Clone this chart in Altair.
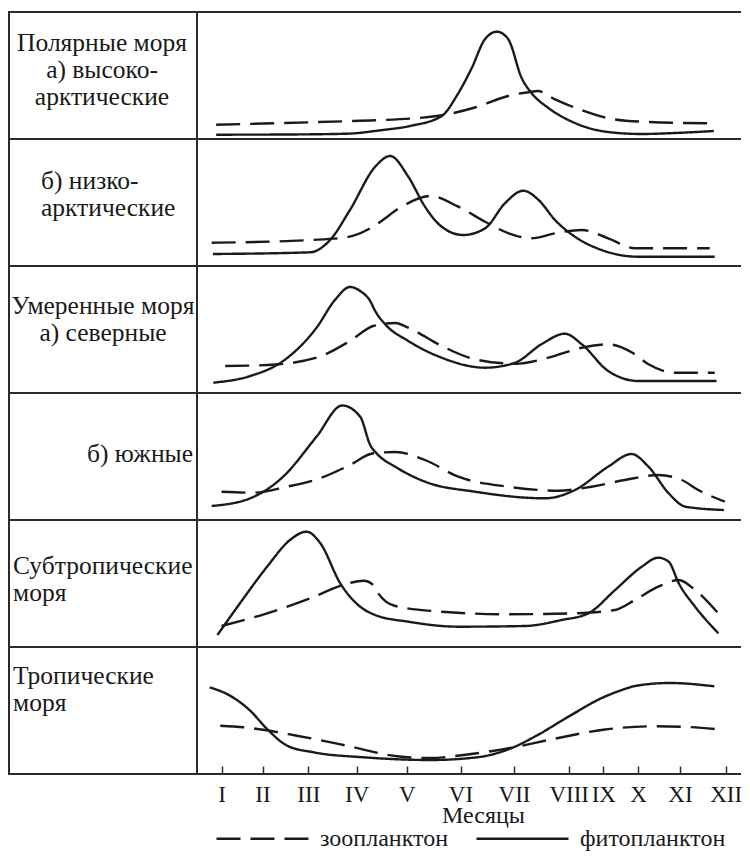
import altair as alt
import pandas as pd

# ---------------- data ----------------
months = ["I", "II", "III", "IV", "V", "VI", "VII", "VIII", "IX", "X", "XI", "XII"]
month_num = list(range(1, 13))
series_names = ["зоопланктон", "фитопланктон"]

panel_labels = [
    "Полярные моря\nа) высоко-\nарктические",
    "б) низко-\nарктические",
    "Умеренные моря\nа) северные",
    "б) южные",
    "Субтропические\nморя",
    "Тропические\nморя",
]

# (month, relative biomass) pairs
polar_high_phyto = [(0.87, 4.3), (2.5, 4.5), (3.8, 5.3), (4.47, 8.7), (5.06, 13), (5.65, 23), (5.95, 45),
                    (6.21, 71), (6.46, 100), (6.68, 107.3), (6.89, 100), (7.14, 61), (7.32, 46), (7.63, 31),
                    (8.18, 16), (9.14, 7), (10.09, 5), (10.88, 6), (11.74, 8)]
polar_high_zoo = [(0.87, 14.3), (3.73, 17.7), (4.37, 18.7), (5.56, 23), (6.27, 31.5), (6.89, 43), (7.32, 47.3),
                  (7.43, 48), (7.75, 39.7), (8.38, 28.7), (9.14, 20.7), (10.09, 17.3), (11.66, 15.7)]

polar_low_phyto = [(0.79, 12), (3.04, 13.7), (3.45, 26), (3.86, 56), (4.37, 99.3), (4.67, 110), (5.03, 89.3),
                   (5.34, 59.3), (5.65, 39.3), (6.05, 31), (6.46, 37.7), (6.83, 62.7), (7.17, 75.3), (7.45, 66),
                   (7.75, 46), (8.18, 29.3), (8.95, 16), (10.01, 9.3), (11.76, 9.3)]
polar_low_zoo = [(0.76, 23.3), (3.04, 26), (3.79, 28.7), (4.27, 37.7), (4.43, 42.7), (4.90, 59.3), (5.44, 70),
                 (5.96, 59.3), (6.46, 44.3), (6.90, 32.7), (7.32, 27.7), (7.75, 32.7), (8.38, 36), (9.14, 27.7),
                 (9.91, 17.7), (11.65, 17.7)]

temp_north_phyto = [(0.80, 10.3), (1.70, 17), (2.45, 32), (3.17, 65.3), (3.55, 93), (3.86, 106), (4.07, 102),
                    (4.27, 92), (4.37, 82), (4.57, 68.7), (5.03, 52), (5.65, 35.3), (6.46, 25.3), (7.02, 30.3),
                    (7.50, 48.7), (7.93, 59.3), (8.38, 48.7), (9.14, 22), (10.01, 12), (11.80, 12)]
temp_north_zoo = [(1.09, 27), (2.10, 28), (3.17, 35.3), (3.86, 52), (4.33, 67), (4.77, 70), (5.03, 65.3),
                  (5.65, 47), (6.27, 33.7), (7.02, 29.3), (7.63, 35.3), (8.38, 45.3), (9.14, 48.7), (9.84, 40.3),
                  (10.25, 28.7), (10.88, 20.3), (11.76, 20.3)]

temp_south_phyto = [(0.76, 14), (1.70, 21.7), (2.45, 43.3), (3.17, 83.3), (3.70, 114.5), (4.07, 103.3),
                    (4.27, 75), (4.41, 66), (4.77, 53.3), (5.34, 38.3), (6.27, 28.3), (7.57, 21.7), (8.18, 30),
                    (9.14, 53.3), (9.81, 66), (10.25, 53.3), (10.73, 26.7), (11.12, 13.3), (11.96, 10)]
temp_south_zoo = [(1.0, 28.3), (1.78, 27.3), (2.53, 33.3), (3.24, 41.7), (3.86, 55), (4.33, 66.7), (4.77, 68),
                  (5.34, 60), (5.96, 43.3), (6.89, 33.3), (7.81, 29.3), (8.66, 33.3), (9.62, 40), (10.48, 45),
                  (11.04, 40), (11.40, 30), (11.98, 18.3)]

subtrop_phyto = [(0.90, 12), (1.45, 43.7), (2.10, 80.3), (2.60, 107), (2.96, 115.3), (3.25, 103.7), (3.66, 63.7),
                 (4.07, 40.3), (4.37, 32), (5.03, 25.3), (5.96, 20.3), (7.20, 21), (7.87, 27), (8.57, 33.7),
                 (9.34, 57), (10.09, 80.3), (10.48, 89.3), (10.73, 85.3), (10.97, 63.7), (11.33, 40.3),
                 (11.84, 13.7)]
subtrop_zoo = [(1.0, 21), (2.10, 33.7), (3.04, 48.7), (3.72, 62), (4.14, 66.3), (4.33, 62), (4.43, 53.7),
               (4.77, 41), (5.65, 35.3), (6.89, 32.7), (8.18, 33.7), (9.34, 37), (9.91, 47), (10.48, 60.3),
               (10.97, 67), (11.33, 57), (11.93, 28.7)]

trop_phyto = [(0.71, 86.7), (1.21, 78.3), (1.70, 63.3), (2.10, 45), (2.54, 28.3), (3.11, 21.7), (4.14, 16.7),
              (5.44, 14), (6.31, 16.7), (6.99, 26.7), (7.41, 38.3), (8.04, 58.3), (9.0, 76.7), (9.48, 83.3),
              (9.96, 88.3), (10.76, 91), (11.75, 87.7)]
trop_zoo = [(0.97, 48.3), (1.54, 46.7), (2.75, 38.3), (3.80, 28.3), (4.81, 17.7), (5.44, 16), (6.06, 19),
            (6.99, 26.7), (7.72, 35), (9.0, 44.3), (10.37, 47.7), (11.16, 47), (11.94, 44.3)]

panels = [
    (polar_high_phyto, polar_high_zoo),
    (polar_low_phyto, polar_low_zoo),
    (temp_north_phyto, temp_north_zoo),
    (temp_south_phyto, temp_south_zoo),
    (subtrop_phyto, subtrop_zoo),
    (trop_phyto, trop_zoo),
]

# ---------------- layout / style ----------------
FONT = "Liberation Serif, DejaVu Serif, serif"
INK = "#1a1a1a"
FRAME = "#2a2a2a"
LABEL_W = 189
PLOT_W = 544
PANEL_H = 127
TICK_PX = [24.5, 65.5, 111.3, 159.7, 209.7, 263.5, 317, 371.7, 406.3, 441, 483, 528.7]

label_style = [
    dict(align="center", x=94, y=19),
    dict(align="left", x=33, y=30),
    dict(align="center", x=95, y=28),
    dict(align="center", x=132, y=49),
    dict(align="left", x=5, y=34),
    dict(align="left", x=5, y=17),
]

xscale = alt.Scale(domain=month_num, range=TICK_PX, nice=False, zero=False)
yscale = alt.Scale(domain=[0, PANEL_H], nice=False, zero=False)
dash_scale = alt.Scale(domain=series_names, range=[[24, 10], [1, 0]])
label_expr = "[" + ",".join(f"'{m}'" for m in months) + "][datum.value - 1]"

one_row = pd.DataFrame({"k": [0]})


def label_panel(i):
    st = label_style[i]
    txt = alt.Chart(pd.DataFrame({"t": [panel_labels[i]]})).mark_text(
        font=FONT, fontSize=25.5, color=INK, align=st["align"], baseline="top",
        lineBreak="\n", lineHeight=27
    ).encode(x=alt.value(st["x"]), y=alt.value(st["y"]), text="t:N")
    box = alt.Chart(one_row).mark_rect(fillOpacity=0, stroke=FRAME, strokeWidth=2).encode(
        x=alt.value(1), x2=alt.value(LABEL_W), y=alt.value(0), y2=alt.value(PANEL_H)
    )
    return alt.layer(box, txt).properties(width=LABEL_W, height=PANEL_H)


def plot_panel(i):
    phyto, zoo = panels[i]
    rows = [{"m": m, "v": v, "kind": series_names[1]} for m, v in phyto]
    rows += [{"m": m, "v": v, "kind": series_names[0]} for m, v in zoo]
    df = pd.DataFrame(rows)
    last = i == len(panels) - 1
    if last:
        xaxis = alt.Axis(values=month_num, labelExpr=label_expr, offset=-8, tickSize=8, tickWidth=1.5,
                         tickColor=FRAME, domain=False, grid=False, labelFont=FONT, labelFontSize=23,
                         labelColor=INK, labelPadding=9, labelOverlap=False, labelFlush=False,
                         title="Месяцы", titleFont=FONT, titleFontSize=24, titleFontWeight="normal",
                         titleColor=INK, titlePadding=-3, titleX=286)
    else:
        xaxis = None
    legend = alt.Legend(orient="none", legendX=207, legendY=779, offset=0, direction="horizontal", title=None,
                        symbolType="stroke", symbolSize=8464, symbolStrokeWidth=2.5, symbolStrokeColor=INK,
                        labelFont=FONT, labelFontSize=24, labelColor=INK, labelOffset=10, columnPadding=22,
                        labelLimit=0, padding=0)
    lines = alt.Chart(df).mark_line(interpolate="monotone", strokeWidth=2.4, color=INK).encode(
        x=alt.X("m:Q", scale=xscale, axis=xaxis),
        y=alt.Y("v:Q", scale=yscale, axis=None),
        strokeDash=alt.StrokeDash("kind:N", scale=dash_scale, legend=legend),
    )
    top = alt.Chart(one_row).mark_rule(color=FRAME, strokeWidth=2).encode(
        x=alt.value(0), x2=alt.value(PLOT_W), y=alt.value(0))
    bottom = alt.Chart(one_row).mark_rule(color=FRAME, strokeWidth=2).encode(
        x=alt.value(0), x2=alt.value(PLOT_W), y=alt.value(PANEL_H))
    return alt.layer(top, bottom, lines).properties(width=PLOT_W, height=PANEL_H)


cells = []
for i in range(len(panels)):
    cells.append(label_panel(i))
    cells.append(plot_panel(i))

chart = alt.concat(*cells, columns=2, spacing=0, bounds="flush").properties(
    padding={"left": 0, "top": 3, "right": 0, "bottom": 0}
).configure_view(strokeWidth=0)

chart.save("out.html", embed_options={"renderer": "svg", "actions": False})
